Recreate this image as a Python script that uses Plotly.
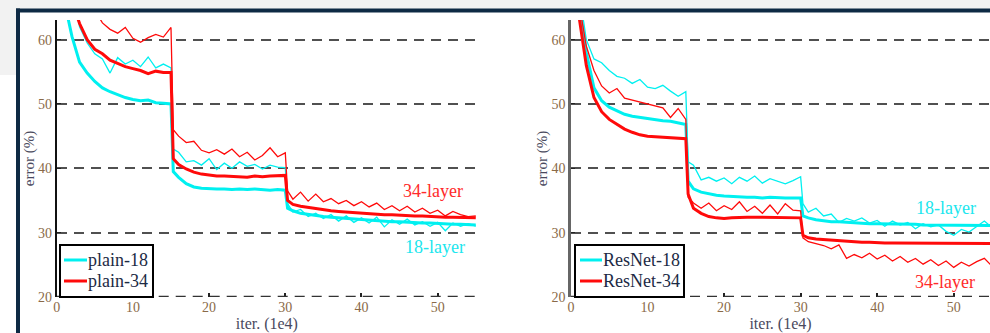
import plotly.graph_objects as go

# ---------------- data (iterations in 1e4, error in %) ----------------
ITERS = [1, 2, 3, 4, 5, 6, 7, 8, 9, 10, 11, 12, 13, 14, 15,
         15.3, 16, 17, 18, 19, 20, 21, 22, 23, 24, 25, 26, 27, 28, 29, 30,
         30.3, 31, 32, 33, 34, 35, 36, 37, 38, 39, 40, 41, 42, 43, 44, 45,
         46, 47, 48, 49, 50, 51, 52, 53, 54, 55]

PLAIN18_TRAIN = [75, 68, 62, 59.5, 57.8, 57, 54.8, 57.2, 56.2, 56.8, 55.8, 57.3, 55.6, 56.2, 55.6,
                 43, 42.5, 41, 41.2, 40.5, 41.5, 39.8, 40.8, 40, 41, 40.3, 40.6, 39.9, 40.5, 40.2, 40.1,
                 34.5, 33.2, 33.6, 32.5, 33, 32.2, 32.8, 31.8, 32.6, 31.6, 32.3, 31.5, 32.4, 30.9, 32,
                 31.3, 32.1, 31.2, 31.7, 31, 31.6, 30.3, 31.5, 31.0, 31.4, 31.0]
PLAIN18_VAL = [66, 60.5, 56.5, 54.8, 53.5, 52.5, 51.9, 51.4, 51, 50.7, 50.5, 50.6, 50.2, 50.1, 50,
               39.5, 38.6, 37.6, 37.1, 36.9, 36.8, 36.8, 36.8, 36.7, 36.8, 36.7, 36.8, 36.7, 36.6, 36.7, 36.6,
               33.8, 33.4, 33.0, 32.8, 32.6, 32.5, 32.4, 32.3, 32.2, 32.1, 32.0, 31.9, 31.9, 31.8, 31.7,
               31.7, 31.6, 31.6, 31.5, 31.5, 31.4, 31.4, 31.3, 31.3, 31.2, 31.2]
PLAIN34_TRAIN = [80, 74, 69, 66, 64.6, 62.6, 61.6, 61, 61.9, 60.2, 59.6, 60.3, 60.8, 60.4, 61.9,
                 46, 45, 44, 44.2, 42.8, 42.4, 42.9, 42.2, 43.0, 41.8, 42.5, 41.3, 42.0, 43.2, 41.8, 42.4,
                 36.5, 35.2, 36.3, 34.9, 36, 34.8, 35.3, 34.5, 35.0, 34.2, 34.8, 34.0, 34.6, 33.6, 34.2,
                 33.4, 34.1, 33.2, 33.8, 33.0, 33.5, 32.6, 33.3, 32.8, 32.5, 32.6]
PLAIN34_VAL = [72, 66, 62.5, 60, 58.5, 57.8, 56.8, 56.3, 55.8, 55.5, 55.2, 54.7, 55.1, 54.9, 54.9,
               41.5, 40.6, 39.9, 39.4, 39.1, 38.9, 38.8, 38.8, 38.7, 38.7, 38.6, 38.8, 38.7, 38.8, 38.9, 38.9,
               35, 34.4, 34.1, 33.9, 33.7, 33.6, 33.4, 33.3, 33.2, 33.1, 33.0, 32.9, 32.9, 32.8, 32.8,
               32.7, 32.7, 32.6, 32.6, 32.5, 32.5, 32.4, 32.4, 32.4, 32.3, 32.3]

RES18_TRAIN = [68, 60, 57, 56.4, 55.2, 54.3, 54.0, 53.2, 53.8, 52.6, 52.4, 52.9, 52.0, 51.2, 51.9,
               41, 40.5, 38.2, 38.6, 38.0, 38.5, 37.6, 38.6, 38.0, 38.8, 37.7, 38.4, 38.0, 37.6, 38.1, 38.7,
               34.5, 33.2, 33.8, 32.6, 32.9, 31.6, 32.2, 31.8, 32.3, 31.5, 31.9, 31.0, 31.8, 31.2, 31.6,
               30.6, 31.4, 30.9, 31.2, 30.2, 29.6, 30.5, 30.1, 31.0, 31.8, 30.8]
RES18_VAL = [66, 58, 52.5, 50.5, 49.5, 48.9, 48.4, 48.1, 47.9, 47.8, 47.6, 47.4, 47.3, 47.0, 46.8,
             38, 36.8, 36.3, 36.0, 35.8, 35.7, 35.6, 35.6, 35.5, 35.5, 35.4, 35.5, 35.4, 35.4, 35.4, 35.4,
             32.6, 32.3, 32.0, 31.8, 31.7, 31.7, 31.6, 31.5, 31.5, 31.4, 31.4, 31.4, 31.3, 31.3, 31.3,
             31.3, 31.2, 31.2, 31.2, 31.2, 31.2, 31.1, 31.1, 31.1, 31.1, 31.1]
RES34_TRAIN = [66, 59, 55.2, 52.8, 51.7, 52.4, 50.9, 50.6, 50.2, 49.9, 49.7, 49.4, 47.9, 49.3, 47.6,
               35.5, 34.6, 33.8, 34.6, 33.4, 34.2, 33.6, 34.8, 33.3, 34.1, 33.0, 34.3, 32.9, 34.5, 33.5, 33.4,
               29.2, 28.6, 28.3, 28.0, 27.5, 28.1, 26.0, 26.6, 26.1, 26.8, 25.9, 26.5, 25.6, 26.3, 25.4,
               26.0, 25.1, 25.8, 24.9, 25.6, 24.6, 25.4, 24.8, 25.5, 26.0, 24.8]
RES34_VAL = [64, 56, 51, 48.8, 47.6, 46.8, 46.1, 45.6, 45.2, 45.0, 44.9, 44.8, 44.7, 44.7, 44.6,
             36, 33.8, 33.0, 32.5, 32.3, 32.2, 32.3, 32.4, 32.4, 32.4, 32.4, 32.3, 32.4, 32.4, 32.3, 32.3,
             29.6, 29.2, 29.0, 28.9, 28.8, 28.7, 28.6, 28.6, 28.5, 28.5, 28.4, 28.4, 28.4, 28.4, 28.4,
             28.3, 28.3, 28.3, 28.3, 28.3, 28.3, 28.3, 28.3, 28.3, 28.3, 28.3]

Y_TICKS = [20, 30, 40, 50, 60]
X_TICKS = [0, 10, 20, 30, 40, 50]
LEFT_NAMES = ["plain-18", "plain-34"]
RIGHT_NAMES = ["ResNet-18", "ResNet-34"]

# ---------------- styling ----------------
W, H = 990, 333
CYAN = "#00f0f0"
RED = "#ff0a0a"
SERIF = "Liberation Serif, Times New Roman, serif"
TICK_COLOR = "#8a6a48"
TITLE_COLOR = "#4a4a5e"
LEG_COLOR = "#1c2a44"
GRID_DASH = "10px,7px"


def px_x(p):
    return p / W


def px_y(p):
    return 1 - p / H


fig = go.Figure()


def add(x, y, color, width, name, xa, ya):
    fig.add_trace(go.Scatter(x=x, y=y, mode="lines", name=name, showlegend=False,
                             line=dict(color=color, width=width),
                             xaxis=xa, yaxis=ya, hoverinfo="skip"))


add(ITERS, PLAIN18_TRAIN, CYAN, 1.3, "plain-18 (train)", "x", "y")
add(ITERS, PLAIN18_VAL, CYAN, 3, "plain-18", "x", "y")
add(ITERS, PLAIN34_TRAIN, RED, 1.3, "plain-34 (train)", "x", "y")
add(ITERS, PLAIN34_VAL, RED, 3, "plain-34", "x", "y")

add(ITERS, RES18_TRAIN, CYAN, 1.3, "ResNet-18 (train)", "x2", "y2")
add(ITERS, RES18_VAL, CYAN, 3, "ResNet-18", "x2", "y2")
add(ITERS, RES34_TRAIN, RED, 1.3, "ResNet-34 (train)", "x2", "y2")
add(ITERS, RES34_VAL, RED, 3, "ResNet-34", "x2", "y2")

ydom = [px_y(297), px_y(20)]
YRANGE = [20, 63.05]
X1RANGE = [0, 55.16]
X2RANGE = [0, 54.74]


def xaxis(domain, rng, anchor):
    return dict(domain=domain, range=rng, anchor=anchor, showgrid=False, zeroline=False,
                showline=False, ticks="inside", ticklen=4, tickwidth=1.5, tickcolor="#222",
                tickvals=X_TICKS, tickfont=dict(family=SERIF, size=14, color=TICK_COLOR),
                title=dict(text="iter. (1e4)", font=dict(family=SERIF, size=16, color=TITLE_COLOR),
                           standoff=2),
                automargin=False, fixedrange=True)


def yaxis(anchor, lcolor, lwidth):
    return dict(domain=ydom, range=YRANGE, anchor=anchor, showgrid=True,
                gridcolor="#505050", gridwidth=2, griddash=GRID_DASH, zeroline=False,
                showline=True, linecolor=lcolor, linewidth=lwidth, ticks="inside", ticklen=4,
                tickcolor="#222", tickvals=Y_TICKS,
                tickfont=dict(family=SERIF, size=14, color=TICK_COLOR),
                title=dict(text="error (%)", font=dict(family=SERIF, size=15, color=TITLE_COLOR),
                           standoff=0),
                automargin=False, fixedrange=True)


shapes = [
    # page background strips and dark frame around the embedded image
    dict(type="rect", xref="paper", yref="paper", x0=0, x1=1, y0=px_y(9), y1=1,
         fillcolor="#f2f2f2", line=dict(width=0), layer="above"),
    dict(type="rect", xref="paper", yref="paper", x0=0, x1=px_x(16), y0=px_y(75), y1=1,
         fillcolor="#f2f2f2", line=dict(width=0), layer="above"),
    dict(type="rect", xref="paper", yref="paper", x0=px_x(16), x1=1, y0=px_y(12.5), y1=px_y(8.5),
         fillcolor="#0e2a44", line=dict(width=0), layer="above"),
    dict(type="rect", xref="paper", yref="paper", x0=px_x(16), x1=px_x(20), y0=0, y1=px_y(8.5),
         fillcolor="#0e2a44", line=dict(width=0), layer="above"),
    # bottom dashed gridline at 20 (range edge)
    dict(type="line", xref="x", yref="y", x0=X1RANGE[0], x1=X1RANGE[1], y0=20, y1=20,
         line=dict(color="#333333", width=2.5, dash=GRID_DASH), layer="above"),
    dict(type="line", xref="x2", yref="y2", x0=X2RANGE[0], x1=X2RANGE[1], y0=20, y1=20,
         line=dict(color="#333333", width=2.5, dash=GRID_DASH), layer="above"),
]

annotations = [
    dict(text="34-layer", x=49.4, y=36.4, xref="x", yref="y", showarrow=False,
         font=dict(family=SERIF, size=18, color="#ff2a2a")),
    dict(text="18-layer", x=49.6, y=27.8, xref="x", yref="y", showarrow=False,
         font=dict(family=SERIF, size=18, color="#20e6ee")),
    dict(text="18-layer", x=49.0, y=33.9, xref="x2", yref="y2", showarrow=False,
         font=dict(family=SERIF, size=18, color="#20e6ee")),
    dict(text="34-layer", x=48.9, y=22.3, xref="x2", yref="y2", showarrow=False,
         font=dict(family=SERIF, size=18, color="#ff2a2a")),
]


# MATLAB-style legend boxes (box, line samples, labels)
def legend_box(x0, x1, line_x0, line_x1, names):
    shapes.append(dict(type="rect", xref="paper", yref="paper",
                       x0=px_x(x0), x1=px_x(x1), y0=px_y(297), y1=px_y(245),
                       fillcolor="white", line=dict(color="black", width=2), layer="above"))
    for name, color, ypx in zip(names, [CYAN, RED], [260, 281]):
        shapes.append(dict(type="line", xref="paper", yref="paper",
                           x0=px_x(line_x0), x1=px_x(line_x1), y0=px_y(ypx), y1=px_y(ypx),
                           line=dict(color=color, width=3), layer="above"))
        annotations.append(dict(text=name, xref="paper", yref="paper",
                                x=px_x(line_x1 - 1), y=px_y(ypx), xanchor="left", yanchor="middle",
                                showarrow=False,
                                font=dict(family=SERIF, size=18, color=LEG_COLOR)))


legend_box(60, 153, 64, 87, LEFT_NAMES)
legend_box(575, 684, 580, 602, RIGHT_NAMES)

fig.update_layout(
    width=W, height=H, margin=dict(l=0, r=0, t=0, b=0, autoexpand=False),
    paper_bgcolor="white", plot_bgcolor="white", showlegend=False,
    xaxis=xaxis([px_x(56.7), px_x(477)], X1RANGE, "y"),
    yaxis=yaxis("x", "#111111", 2),
    xaxis2=xaxis([px_x(571), 1.0], X2RANGE, "y2"),
    yaxis2=yaxis("x2", "#666666", 2.5),
    annotations=annotations,
    shapes=shapes,
)

fig.write_html("out.html")
